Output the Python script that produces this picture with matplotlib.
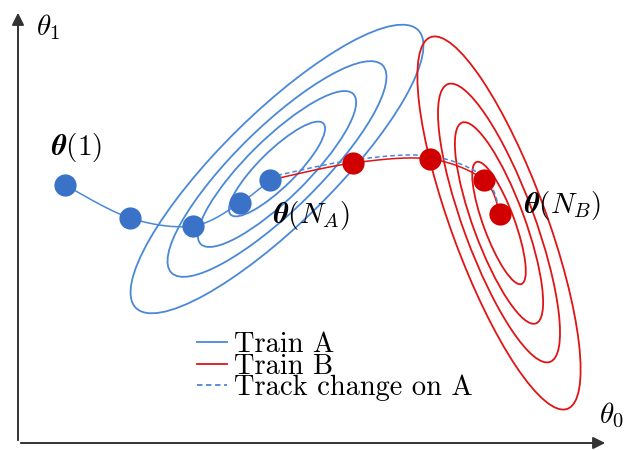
import numpy as np
import matplotlib.pyplot as plt
from matplotlib.patches import Ellipse
from matplotlib.lines import Line2D

plt.rcParams['mathtext.fontset'] = 'cm'

# optimisation path while training on A, then on B
path_a_x = [65, 130, 193, 240, 270]
path_a_y = [185, 218, 226, 203, 180]
path_b_x = [270, 353, 430, 484, 500]
path_b_y = [180, 163, 159, 180, 214]
# where the A-objective would have been tracked during training on B
track_x = [270, 353, 430, 484, 500]
track_y = [177, 160, 156, 177, 211]

# loss contours (semi-major axes), shared by both tasks
levels_a = [65, 107, 148, 198]
center_a = (277, 169)
angle_a = -44.5
center_b = (499, 223)
angle_b = 69.8

BLUE = '#3a72c8'
BLUE_L = '#4a88d8'
RED = '#d00000'
RED_L = '#e01414'


def smooth(xs, ys, n=40):
    # Catmull-Rom curve through the given points
    p = np.column_stack([xs, ys]).astype(float)
    p = np.vstack([p[0], p, p[-1]])
    out = []
    t = np.linspace(0, 1, n)[:, None]
    for i in range(1, len(p) - 2):
        p0, p1, p2, p3 = p[i - 1], p[i], p[i + 1], p[i + 2]
        seg = 0.5 * ((2 * p1) + (-p0 + p2) * t + (2 * p0 - 5 * p1 + 4 * p2 - p3) * t ** 2
                     + (-p0 + 3 * p1 - 3 * p2 + p3) * t ** 3)
        out.append(seg)
    out = np.vstack(out)
    return out[:, 0], out[:, 1]


fig = plt.figure(figsize=(6.28, 4.5), dpi=100)
ax = fig.add_axes([0, 0, 1, 1])
ax.set_xlim(0, 628)
ax.set_ylim(450, 0)
ax.set_aspect('equal')
ax.axis('off')

for a in levels_a:
    ax.add_patch(Ellipse(center_a, 2 * a, 2 * a * 0.28, angle=angle_a,
                         fill=False, ec=BLUE_L, lw=1.3))
    ax.add_patch(Ellipse(center_b, 2 * a, 2 * a * 0.24, angle=angle_b,
                         fill=False, ec=RED_L, lw=1.3))

sx, sy = smooth(path_a_x, path_a_y)
ax.plot(sx, sy, color=BLUE_L, lw=1.1, zorder=3)
sx, sy = smooth(path_b_x, path_b_y)
ax.plot(sx, sy, color=RED_L, lw=1.1, zorder=3)
sx, sy = smooth(track_x, track_y)
ax.plot(sx, sy, color=BLUE_L, lw=1.1, ls=(0, (3, 2)), zorder=3)

ax.plot(path_a_x, path_a_y, 'o', color=BLUE, ms=16, mec='none', zorder=4)
ax.plot(path_b_x[1:], path_b_y[1:], 'o', color=RED, ms=16, mec='none', zorder=4)

# axes arrows
ax.annotate('', xy=(18, 10), xytext=(18, 443),
            arrowprops=dict(arrowstyle='-|>', color='#333333', lw=1.4, mutation_scale=18))
ax.annotate('', xy=(608, 443), xytext=(18, 443),
            arrowprops=dict(arrowstyle='-|>', color='#333333', lw=1.4, mutation_scale=18))
ax.text(48, 27, r'$\theta_1$', fontsize=21, ha='center', va='center')
ax.text(612, 415, r'$\theta_0$', fontsize=21, ha='center', va='center')

ax.text(76, 148, r'$\mathbfit{\theta}(1)$', fontsize=21, ha='center', va='center')
ax.text(311, 215, r'$\mathbfit{\theta}(N_A)$', fontsize=21, ha='center', va='center')
ax.text(563, 206, r'$\mathbfit{\theta}(N_B)$', fontsize=21, ha='center', va='center')

handles = [Line2D([], [], color=BLUE_L, lw=1.3),
           Line2D([], [], color=RED_L, lw=1.3),
           Line2D([], [], color=BLUE_L, lw=1.3, ls=(0, (3, 2)))]
labels = ['Train A', 'Train B', 'Track change on A']
ax.legend(handles, labels, loc='upper left', bbox_to_anchor=(197 / 628, 1 - 332 / 450),
          frameon=False, prop={'family': 'cmr10', 'size': 20.5}, labelspacing=-0.18,
          handlelength=1.05, handletextpad=0.25, borderaxespad=0, borderpad=0)

fig.savefig('out.png', dpi=100)
